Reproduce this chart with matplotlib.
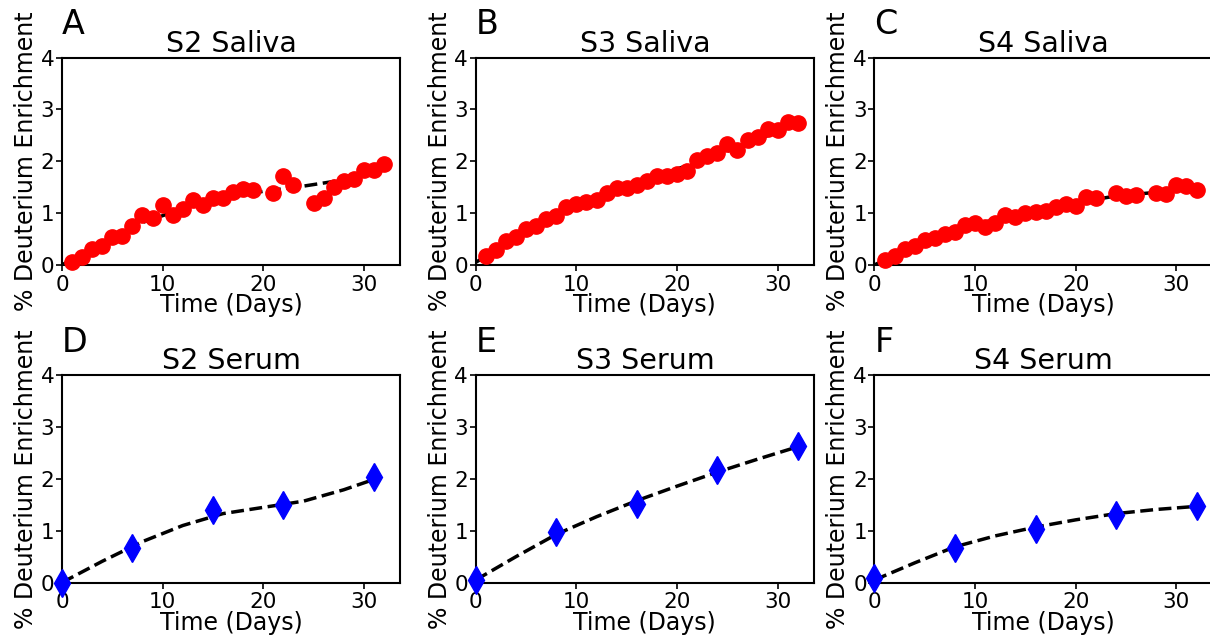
import matplotlib
matplotlib.use('Agg')
import matplotlib.pyplot as plt

# saliva measurements
s2_sal_days = [1, 2, 3, 4, 5, 6, 7, 8, 9, 10, 11, 12, 13, 14, 15, 16, 17, 18, 19,
               21, 22, 23, 25, 26, 27, 28, 29, 30, 31, 32]
s2_sal = [0.06, 0.15, 0.31, 0.37, 0.53, 0.56, 0.76, 0.96, 0.90, 1.15, 0.97, 1.07,
          1.25, 1.15, 1.30, 1.29, 1.41, 1.47, 1.45, 1.38, 1.71, 1.55, 1.20, 1.29,
          1.51, 1.62, 1.65, 1.84, 1.84, 1.94]

s3_sal_days = list(range(1, 33))
s3_sal = [0.17, 0.29, 0.46, 0.54, 0.69, 0.75, 0.88, 0.94, 1.11, 1.17, 1.22, 1.26,
          1.39, 1.49, 1.49, 1.54, 1.62, 1.71, 1.71, 1.76, 1.81, 2.02, 2.10, 2.15,
          2.33, 2.21, 2.40, 2.47, 2.63, 2.60, 2.76, 2.74]

s4_sal_days = [1, 2, 3, 4, 5, 6, 7, 8, 9, 10, 11, 12, 13, 14, 15, 16, 17, 18, 19,
               20, 21, 22, 24, 25, 26, 28, 29, 30, 31, 32]
s4_sal = [0.10, 0.17, 0.31, 0.37, 0.48, 0.51, 0.60, 0.64, 0.77, 0.81, 0.74, 0.81,
          0.96, 0.92, 1.01, 1.03, 1.04, 1.11, 1.17, 1.13, 1.31, 1.30, 1.39, 1.33,
          1.34, 1.38, 1.37, 1.54, 1.52, 1.44]

# serum measurements
s2_ser_days = [0, 7, 15, 22, 31]
s2_ser = [0.0, 0.66, 1.39, 1.49, 2.04]
s3_ser_days = [0, 8, 16, 24, 32]
s3_ser = [0.05, 0.97, 1.52, 2.18, 2.64]
s4_ser_days = [0, 8, 16, 24, 32]
s4_ser = [0.08, 0.66, 1.04, 1.31, 1.47]

# model fits
fit_days = [0, 4, 8, 12, 16, 20, 24, 28, 32]
s2_sal_fit = [0.0, 0.42, 0.82, 1.08, 1.28, 1.42, 1.52, 1.64, 1.92]
s3_sal_fit = [0.05, 0.52, 0.95, 1.30, 1.58, 1.85, 2.12, 2.42, 2.72]
s4_sal_fit = [0.0, 0.38, 0.66, 0.88, 1.05, 1.20, 1.33, 1.40, 1.47]
s2_fit_days = [0, 4, 8, 12, 16, 20, 24, 28, 31]
s2_ser_fit = [0.0, 0.41, 0.79, 1.10, 1.33, 1.45, 1.57, 1.79, 1.99]
s3_ser_fit = [0.05, 0.50, 0.93, 1.27, 1.58, 1.86, 2.13, 2.38, 2.62]
s4_ser_fit = [0.05, 0.38, 0.69, 0.90, 1.07, 1.21, 1.33, 1.41, 1.47]

panels = [
    ('A', 'S2 Saliva', s2_sal_days, s2_sal, fit_days, s2_sal_fit, 'o'),
    ('B', 'S3 Saliva', s3_sal_days, s3_sal, fit_days, s3_sal_fit, 'o'),
    ('C', 'S4 Saliva', s4_sal_days, s4_sal, fit_days, s4_sal_fit, 'o'),
    ('D', 'S2 Serum', s2_ser_days, s2_ser, s2_fit_days, s2_ser_fit, 'd'),
    ('E', 'S3 Serum', s3_ser_days, s3_ser, fit_days, s3_ser_fit, 'd'),
    ('F', 'S4 Serum', s4_ser_days, s4_ser, fit_days, s4_ser_fit, 'd'),
]

lefts = [0.0512, 0.3932, 0.7227]
bottoms = [0.588, 0.094]
w, h = 0.2795, 0.3225

fig = plt.figure(figsize=(12.1, 6.43), dpi=100)
for i, (letter, title, xd, yd, xf, yf, mk) in enumerate(panels):
    ax = fig.add_axes([lefts[i % 3], bottoms[i // 3], w, h])
    ax.plot(xf, yf, '--', color='black', lw=2.5, zorder=2)
    if mk == 'o':
        ax.plot(xd, yd, 'o', color='red', ms=11, ls='none', zorder=3, clip_on=False)
    else:
        ax.plot(xd, yd, 'd', color='blue', ms=14, ls='none', zorder=3, clip_on=False)
    ax.set_xlim(0, 33.6)
    ax.set_ylim(0, 4)
    ax.set_xticks([0, 10, 20, 30])
    ax.set_yticks([0, 1, 2, 3, 4])
    ax.tick_params(labelsize=15.5, width=1.2, length=4)
    ax.tick_params(axis='x', pad=3)
    ax.tick_params(axis='y', pad=1.5)
    for sp in ax.spines.values():
        sp.set_linewidth(1.5)
    ax.set_title(title, fontsize=20.5, pad=2)
    ax.set_xlabel('Time (Days)', fontsize=17, labelpad=-1)
    ax.set_ylabel('% Deuterium Enrichment', fontsize=17, labelpad=2)
    ax.text(0.0, 1.08, letter, transform=ax.transAxes, fontsize=24, ha='left', va='bottom')

plt.savefig('out.png', dpi=100)
